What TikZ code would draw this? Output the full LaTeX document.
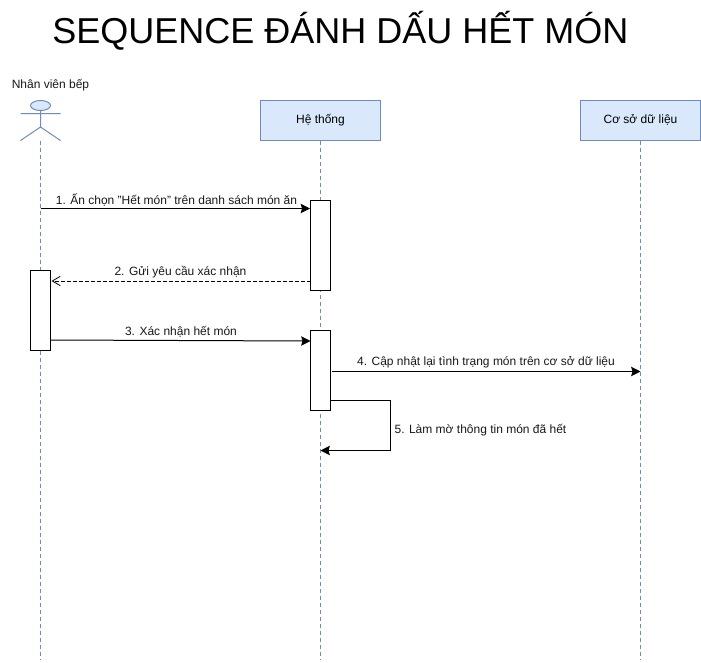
\documentclass[tikz,border=0pt]{standalone}
\usepackage{fontspec}
\setmainfont{Liberation Sans}
\usetikzlibrary{arrows.meta}
\definecolor{lifeblue}{HTML}{6C8EBF}
\definecolor{fillblue}{HTML}{DAE8FC}
\tikzset{
 x=0.75pt,y=-0.75pt,
 lifeline/.style={draw=lifeblue,dash pattern=on 3pt off 2.25pt,line width=0.75pt},
 headbox/.style={draw=lifeblue,fill=fillblue,line width=0.75pt,minimum width=90pt,minimum height=30pt,inner sep=0pt,text height=7pt,text depth=3pt,font=\fontsize{9}{11}\selectfont},
 activation/.style={draw=black,fill=white,line width=0.75pt,minimum width=15pt,inner sep=0pt},
 msg/.style={draw=black,line width=0.75pt,-{Stealth[length=7pt,width=7pt,inset=1pt]}},
 reply/.style={draw=black,line width=0.6pt,dash pattern=on 2.5pt off 2pt,-{Straight Barb[length=6pt,width=7pt]}},
 lab/.style={inner sep=1pt,text=black!90,font=\fontsize{9}{11}\selectfont},
}
\begin{document}
\begin{tikzpicture}
\useasboundingbox (0,0) rectangle (701,662);
\fill[white] (0,0) rectangle (701,662);
\node[font=\fontsize{27}{32}\selectfont,inner sep=0pt] (title) at (340.4,31) {SEQUENCE ĐÁNH DẤU HẾT MÓN};
% actor
\coordinate (actorhead) at (40.5,105.5);
\node[lab] (actorlabel) at (50.5,85.5) {Nhân viên bếp};
\coordinate (lifeAend) at (40.5,660);
\coordinate (lifeBend) at (320.5,660);
\coordinate (lifeCend) at (640.5,660);
\node[headbox] (sys) at (320.5,120.5) {Hệ thống};
\node[headbox] (db) at (640.5,120.5) {Cơ sở dữ liệu};
\draw[lifeline] (40.5,140.5) -- (lifeAend);
\draw[lifeline] (sys.south) -- (lifeBend);
\draw[lifeline] (db.south) -- (lifeCend);
\draw[lifeblue,line width=0.75pt,fill=fillblue] (actorhead) ellipse [x radius=10,y radius=5];
\draw[lifeblue,line width=0.75pt] (40.5,110.5) -- (40.5,127.5) (20.5,113.5) -- (60.5,113.5) (40.5,127) -- (20.5,140.5) (40.5,127) -- (60.5,140.5);
% activations
\node[activation,minimum height=67.5pt] (a1) at (320.5,245.5) {};
\node[activation,minimum height=60pt] (a2) at (40.5,310.5) {};
\node[activation,minimum height=60pt] (a3) at (320.5,370.5) {};
\coordinate (s1) at (40.5,208.5);
\coordinate (s3) at (50.5,340);
\coordinate (s4) at (332,371.5);
\coordinate (e4) at (640.5,371.5);
\coordinate (c1) at (390.5,400.5);
\coordinate (c2) at (390.5,450.5);
\coordinate (e5) at (320.5,450.5);
\coordinate (s2) at (310.5,281);
\coordinate (e2) at (51.5,281);
\draw[msg] (s1) -- (a1.west |- s1);
\draw[reply] (s2) -- (e2);
\draw[msg] (s3) -- (310.5,341);
\draw[msg] (s4) -- (e4);
\draw[msg] (a3.east |- c1) -- (c1) -- (c2) -- (e5);
\node[lab] (m1) at (176.5,200) {1. Ấn chọn "Hết món" trên danh sách món ăn};
\node[lab] (m2) at (180.5,272) {2. Gửi yêu cầu xác nhận};
\node[lab] (m3) at (181,332) {3. Xác nhận hết món};
\node[lab] (m4) at (486,362) {4. Cập nhật lại tình trạng món trên cơ sở dữ liệu};
\node[lab,anchor=west] (m5) at (393,430) {5. Làm mờ thông tin món đã hết};
\end{tikzpicture}
\end{document}
